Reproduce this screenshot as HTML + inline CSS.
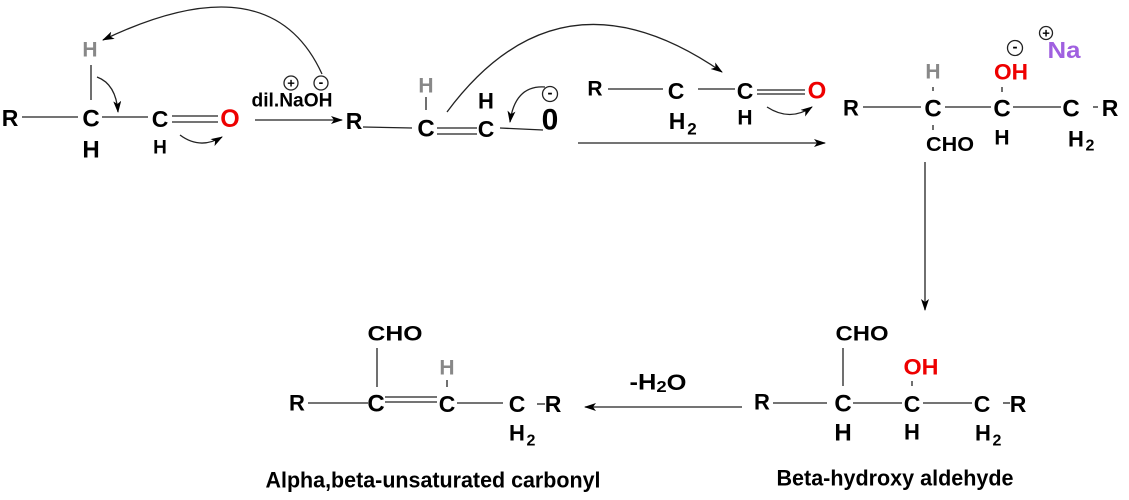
<!DOCTYPE html>
<html><head><meta charset="utf-8"><style>
html,body{margin:0;padding:0;background:#fff;}
svg{display:block;}
text{font-family:"Liberation Sans",Arial,sans-serif;font-weight:bold;}
</style></head><body>
<svg width="1129" height="500" viewBox="0 0 1129 500" xmlns="http://www.w3.org/2000/svg">
<defs>
<marker id="a" markerWidth="12" markerHeight="8" refX="11" refY="4" orient="auto" markerUnits="userSpaceOnUse"><path d="M0,0 L12,4 L0,8 L3,4z" fill="#000"/></marker>
</defs>
<g stroke="#222" stroke-width="1.3" fill="none">
<!-- mol 1 -->
<line x1="22" y1="117" x2="78" y2="117"/>
<line x1="91" y1="65" x2="91" y2="100"/>
<line x1="102" y1="117" x2="148" y2="117"/>
<line x1="172" y1="116" x2="218" y2="116"/>
<line x1="172" y1="122" x2="218" y2="122"/>
<path d="M97,77 Q116,84 118,112" marker-end="url(#a)"/>
<path d="M180,135 Q200,150 222,137" marker-end="url(#a)"/>
<path d="M322,74 Q270,-40 103,40" marker-end="url(#a)"/>
<line x1="255" y1="120" x2="342" y2="120" marker-end="url(#a)"/>
<!-- mol 2 -->
<line x1="363" y1="127" x2="412" y2="128"/>
<line x1="426" y1="97" x2="426" y2="110"/>
<line x1="437" y1="128" x2="477" y2="128"/>
<line x1="437" y1="134" x2="477" y2="134"/>
<line x1="500" y1="128" x2="543" y2="130"/>
<path d="M545,87 Q515,85 510,122" marker-end="url(#a)"/>
<path d="M447,112 Q560,-40 722,72" marker-end="url(#a)"/>
<!-- mol 3 -->
<line x1="608" y1="89" x2="663" y2="89"/>
<line x1="698" y1="89" x2="735" y2="89"/>
<line x1="757" y1="90" x2="805" y2="90"/>
<line x1="757" y1="94" x2="805" y2="94"/>
<path d="M767,107 Q790,122 812,107" marker-end="url(#a)"/>
<line x1="578" y1="143" x2="825" y2="143" marker-end="url(#a)"/>
<!-- product 1 -->
<line x1="863" y1="107" x2="921" y2="107"/>
<line x1="933" y1="87" x2="933" y2="91"/>
<line x1="933" y1="125" x2="933" y2="130"/>
<line x1="945" y1="107" x2="991" y2="107"/>
<line x1="1002" y1="87" x2="1002" y2="92"/>
<line x1="1013" y1="107" x2="1061" y2="107"/>
<line x1="1093" y1="107" x2="1098" y2="107"/>
<line x1="925" y1="162" x2="925" y2="310" marker-end="url(#a)"/>
<!-- bottom right -->
<line x1="742" y1="407" x2="585" y2="407" marker-end="url(#a)"/>
<line x1="773" y1="403" x2="827" y2="403"/>
<line x1="843" y1="348" x2="843" y2="386"/>
<line x1="853" y1="403" x2="902" y2="403"/>
<line x1="912" y1="381" x2="912" y2="386"/>
<line x1="923" y1="403" x2="972" y2="403"/>
<line x1="1003" y1="403" x2="1010" y2="403"/>
<!-- bottom left -->
<line x1="308" y1="403" x2="368" y2="403"/>
<line x1="377" y1="348" x2="377" y2="387"/>
<line x1="385" y1="397" x2="437" y2="397"/>
<line x1="385" y1="402" x2="437" y2="402"/>
<line x1="447" y1="380" x2="447" y2="387"/>
<line x1="457" y1="403" x2="503" y2="403"/>
<line x1="537" y1="404" x2="545" y2="404"/>
<!-- charge circles -->
<circle cx="291" cy="83" r="7"/>
<circle cx="321" cy="83" r="7"/>
<circle cx="550" cy="94" r="7.5"/>
<circle cx="1015" cy="48" r="7.5"/>
<circle cx="1046" cy="33" r="6.5"/>
</g>
<g text-anchor="middle" dominant-baseline="central" fill="#000" font-size="24">
<text x="10" y="118" font-size="23">R</text>
<text x="91" y="119">C</text>
<text x="91" y="150" font-size="24">H</text>
<text x="90" y="50" fill="#888" font-size="21">H</text>
<text x="160" y="119" font-size="23">C</text>
<text x="160" y="148" font-size="19">H</text>
<text x="230" y="119" fill="#e00" font-size="25">O</text>
<text x="292" y="101" font-size="19" textLength="81" lengthAdjust="spacingAndGlyphs">dil.NaOH</text>
<text x="291" y="83" font-size="13">+</text>
<text x="321" y="82" font-size="14">-</text>
<text x="354" y="121" font-size="23">R</text>
<text x="426" y="129">C</text>
<text x="426" y="86" fill="#888" font-size="21">H</text>
<text x="486" y="129" font-size="23">C</text>
<text x="486" y="101" font-size="22">H</text>
<text x="550" y="120" font-size="30">0</text>
<text x="550" y="93" font-size="15">-</text>
<text x="595" y="89" font-size="21">R</text>
<text x="676" y="91" font-size="23">C</text>
<text x="677" y="121" font-size="23">H</text>
<text x="692" y="129" font-size="17">2</text>
<text x="745" y="91" font-size="23">C</text>
<text x="745" y="118" font-size="21">H</text>
<text x="817" y="91" fill="#e00" font-size="24">O</text>
<text x="851" y="108" font-size="22">R</text>
<text x="933" y="109">C</text>
<text x="933" y="72" fill="#888" font-size="21">H</text>
<text x="950" y="145" font-size="20" textLength="48" lengthAdjust="spacingAndGlyphs">CHO</text>
<text x="1002" y="109">C</text>
<text x="1011" y="72" fill="#e00" font-size="22" textLength="34" lengthAdjust="spacingAndGlyphs">OH</text>
<text x="1002" y="138" font-size="21">H</text>
<text x="1015" y="47" font-size="15">-</text>
<text x="1046" y="33" font-size="13">+</text>
<text x="1064" y="50" fill="#a060e0" font-size="23" textLength="33" lengthAdjust="spacingAndGlyphs">Na</text>
<text x="1071" y="109">C</text>
<text x="1110" y="108" font-size="23">R</text>
<text x="1076" y="139" font-size="22">H</text>
<text x="1090" y="146" font-size="16">2</text>
<!-- bottom right -->
<text x="762" y="402" font-size="22">R</text>
<text x="843" y="404">C</text>
<text x="843" y="433">H</text>
<text x="862" y="334" font-size="21" textLength="53" lengthAdjust="spacingAndGlyphs">CHO</text>
<text x="912" y="404" font-size="23">C</text>
<text x="912" y="432" font-size="22">H</text>
<text x="921" y="367" fill="#e00" font-size="22" textLength="35" lengthAdjust="spacingAndGlyphs">OH</text>
<text x="982" y="404" font-size="23">C</text>
<text x="1018" y="404" font-size="23">R</text>
<text x="983" y="433" font-size="22">H</text>
<text x="997" y="441" font-size="16">2</text>
<text x="895" y="478" font-size="22" textLength="237" lengthAdjust="spacingAndGlyphs">Beta-hydroxy aldehyde</text>
<!-- bottom left -->
<text x="658" y="382" font-size="22" textLength="57" lengthAdjust="spacingAndGlyphs">-H<tspan font-size="16" dy="5">2</tspan><tspan dy="-5">O</tspan></text>
<text x="297" y="403" font-size="22">R</text>
<text x="376" y="404">C</text>
<text x="395" y="334" font-size="21" textLength="55" lengthAdjust="spacingAndGlyphs">CHO</text>
<text x="447" y="404" font-size="23">C</text>
<text x="447" y="368" fill="#888" font-size="21">H</text>
<text x="517" y="404" font-size="23">C</text>
<text x="553" y="404" font-size="23">R</text>
<text x="517" y="433" font-size="22">H</text>
<text x="531" y="441" font-size="16">2</text>
<text x="433" y="480" font-size="22" textLength="335" lengthAdjust="spacingAndGlyphs">Alpha,beta-unsaturated carbonyl</text>
</g>
</svg>
</body></html>
